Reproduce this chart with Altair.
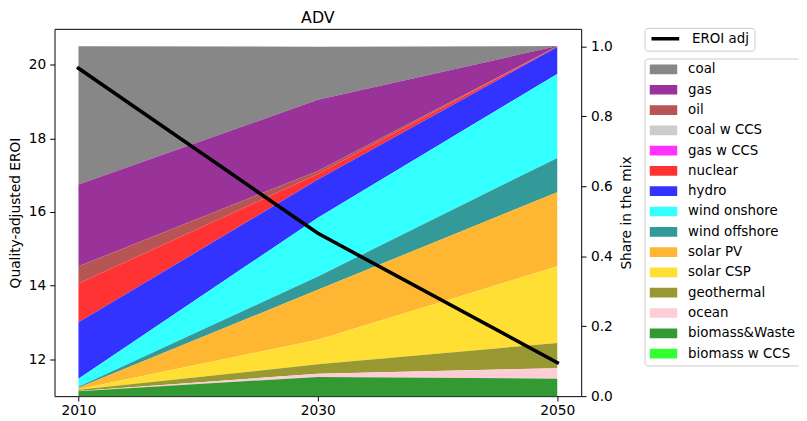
import altair as alt
import pandas as pd

# ---------------- data ----------------
years = [2010, 2030, 2050]
eroi_adj = [19.90, 15.42, 11.91]

sources = ["coal", "gas", "oil", "coal w CCS", "gas w CCS", "nuclear", "hydro",
           "wind onshore", "wind offshore", "solar PV", "solar CSP", "geothermal",
           "ocean", "biomass&Waste", "biomass w CCS"]
colors = ["#878787", "#993399", "#b75555", "#cccccc", "#ff33ff", "#ff3333", "#3333ff",
          "#33ffff", "#339999", "#ffb733", "#ffdf33", "#999933", "#ffcdd5", "#339933",
          "#33ff33"]

coal = [0.395, 0.152, 0.000]
gas = [0.234, 0.203, 0.001]
oil = [0.049, 0.009, 0.000]
coal_ccs = [0.000, 0.000, 0.000]
gas_ccs = [0.000, 0.000, 0.000]
nuclear = [0.111, 0.016, 0.002]
hydro = [0.161, 0.109, 0.077]
wind_on = [0.023, 0.168, 0.240]
wind_off = [0.003, 0.038, 0.098]
solar_pv = [0.004, 0.143, 0.212]
solar_csp = [0.002, 0.070, 0.219]
geothermal = [0.003, 0.027, 0.072]
ocean = [0.001, 0.009, 0.030]
biomass = [0.014, 0.055, 0.050]
biomass_ccs = [0.000, 0.000, 0.000]

series = [coal, gas, oil, coal_ccs, gas_ccs, nuclear, hydro, wind_on, wind_off,
          solar_pv, solar_csp, geothermal, ocean, biomass, biomass_ccs]

rows = []
n = len(sources)
for i, (name, vals) in enumerate(zip(sources, series)):
    for yr, v in zip(years, vals):
        rows.append({"year": yr, "source": name, "share": v, "ord": n - 1 - i})
df_share = pd.DataFrame(rows)
df_eroi = pd.DataFrame({"year": years, "eroi": eroi_adj, "series": ["EROI adj"] * 3})

FONT = "DejaVu Sans"
FS = 13.9
LFS = 13.5

x_enc = alt.X("year:Q",
              scale=alt.Scale(domain=[2008, 2052], nice=False, zero=False),
              axis=alt.Axis(values=years, format="d", title=None, tickSize=4.9,
                            labelPadding=3))

area = alt.Chart(df_share).mark_area(opacity=1, interpolate="linear").encode(
    x=x_enc,
    y=alt.Y("share:Q", stack="zero",
            scale=alt.Scale(domain=[0, 1.05], nice=False),
            axis=alt.Axis(orient="right", values=[0, 0.2, 0.4, 0.6, 0.8, 1.0],
                          format=".1f", title="Share in the mix", tickSize=4.9,
                          labelPadding=4.5, titleAngle=270, titleX=46, titleY=185.5,
                          titleAlign="center", titleBaseline="middle")),
    color=alt.Color("source:N",
                    scale=alt.Scale(domain=sources, range=colors),
                    legend=alt.Legend(title=None, orient="none", legendX=596, legendY=30,
                                      symbolType="M-1,-0.35L1,-0.35L1,0.35L-1,0.35Z",
                                      symbolSize=784, symbolStrokeWidth=0,
                                      symbolOpacity=1, labelOffset=11, padding=5,
                                      rowPadding=6.5, clipHeight=12,
                                      labelFontSize=LFS,
                                      strokeColor="#cccccc", fillColor="white",
                                      cornerRadius=3, labelLimit=300)),
    order=alt.Order("ord:Q", sort="ascending"),
)

line = alt.Chart(df_eroi).mark_line(strokeWidth=3.6, strokeCap="square").encode(
    x=alt.X("year:Q"),
    y=alt.Y("eroi:Q",
            scale=alt.Scale(domain=[11.0, 20.97], nice=False, zero=False),
            axis=alt.Axis(orient="left", values=[12, 14, 16, 18, 20],
                          title="Quality-adjusted EROI", tickSize=4.9, labelPadding=4,
                          titleAngle=270, titleX=-39, titleY=185.5,
                          titleAlign="center", titleBaseline="middle")),
    stroke=alt.Stroke("series:N",
                      scale=alt.Scale(domain=["EROI adj"], range=["black"]),
                      legend=alt.Legend(title=None, orient="none", legendX=596, legendY=-1,
                                        symbolType="stroke", symbolSize=784,
                                        symbolStrokeWidth=3.6, labelOffset=11,
                                        padding=5, clipHeight=12, labelFontSize=LFS,
                                        strokeColor="#cccccc", fillColor="white",
                                        cornerRadius=3, labelLimit=300)),
)

chart = alt.layer(area, line).resolve_scale(
    y="independent", color="independent", stroke="independent"
).properties(
    width=532, height=371,
    title=alt.TitleParams("ADV", font=FONT, fontSize=16, fontWeight="normal",
                          color="black", anchor="middle", frame="group",
                          offset=1),
    autosize=alt.AutoSizeParams(type="none"),
    padding={"left": 47, "top": 19, "right": 220, "bottom": 20},
).configure_view(
    stroke="black", strokeWidth=1
).configure_axis(
    domain=False, grid=False, labelFont=FONT, labelFontSize=FS, labelColor="black",
    titleFont=FONT, titleFontSize=FS, titleFontWeight="normal", titleColor="black",
    tickColor="black", tickWidth=1
).configure_legend(
    labelFont=FONT, labelFontSize=LFS, labelColor="black"
)

chart.save("out.html", embed_options={"renderer": "svg", "actions": False})
